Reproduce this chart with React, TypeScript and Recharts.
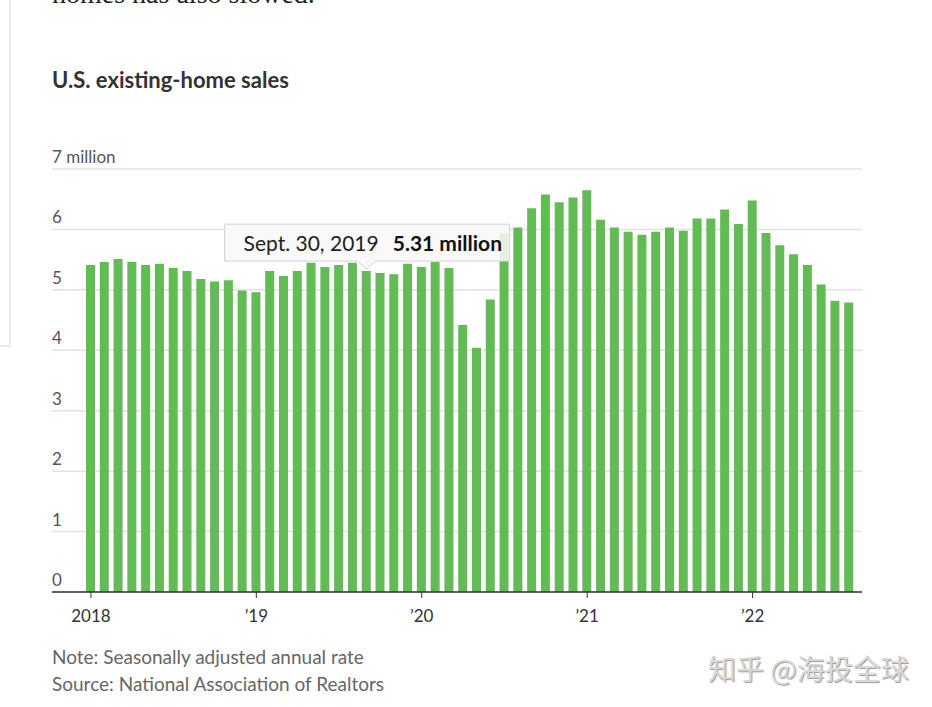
import React from "react";
import { BarChart, Bar, XAxis, YAxis, CartesianGrid, ReferenceDot } from "recharts";

const FONT = "Lato, 'Noto Sans', sans-serif";

const months = [
  "2018-01", "2018-02", "2018-03", "2018-04", "2018-05", "2018-06",
  "2018-07", "2018-08", "2018-09", "2018-10", "2018-11", "2018-12",
  "2019-01", "2019-02", "2019-03", "2019-04", "2019-05", "2019-06",
  "2019-07", "2019-08", "2019-09", "2019-10", "2019-11", "2019-12",
  "2020-01", "2020-02", "2020-03", "2020-04", "2020-05", "2020-06",
  "2020-07", "2020-08", "2020-09", "2020-10", "2020-11", "2020-12",
  "2021-01", "2021-02", "2021-03", "2021-04", "2021-05", "2021-06",
  "2021-07", "2021-08", "2021-09", "2021-10", "2021-11", "2021-12",
  "2022-01", "2022-02", "2022-03", "2022-04", "2022-05", "2022-06",
  "2022-07", "2022-08",
];

// million units, seasonally adjusted annual rate
const sales2018 = [5.41, 5.46, 5.51, 5.46, 5.41, 5.43, 5.36, 5.31, 5.18, 5.14, 5.16, 4.99];
const sales2019 = [4.96, 5.31, 5.23, 5.31, 5.45, 5.38, 5.41, 5.45, 5.31, 5.28, 5.26, 5.43];
const sales2020 = [5.38, 5.46, 5.36, 4.42, 4.04, 4.84, 5.94, 6.03, 6.35, 6.58, 6.45, 6.53];
const sales2021 = [6.65, 6.16, 6.03, 5.96, 5.91, 5.96, 6.03, 5.98, 6.18, 6.18, 6.33, 6.09];
const sales2022 = [6.48, 5.94, 5.74, 5.59, 5.41, 5.09, 4.82, 4.79];

const yearTicks: Record<string, string> = {
  "2018-01": "2018",
  "2019-01": "\u201919",
  "2020-01": "\u201920",
  "2021-01": "\u201921",
  "2022-01": "\u201922",
};

const yTicks = [0, 1, 2, 3, 4, 5, 6, 7];

const highlightMonth = "2019-09";
const highlightDate = "Sept. 30, 2019";

const values = [...sales2018, ...sales2019, ...sales2020, ...sales2021, ...sales2022];
const data = months.map((month, i) => ({ month, sales: values[i] }));
const highlightValue = values[months.indexOf(highlightMonth)];

const PLOT_LEFT = 52;

const YTick = (props: any) => {
  const { y, payload } = props;
  return (
    <text x={PLOT_LEFT} y={y - 6} fill="#555" fontSize={17} fontFamily={FONT}>
      {payload.value === 7 ? "7 million" : payload.value}
    </text>
  );
};

const TooltipBox = (props: any) => {
  const { cx, cy } = props;
  if (cx == null || cy == null) return null;
  const left = cx - 142;
  const top = cy - 47;
  return (
    <g>
      <path
        d={`M${left},${top} H${left + 285} V${cy - 10} H${cx + 9} L${cx},${cy - 2} L${cx - 9},${cy - 10} H${left} Z`}
        fill="rgba(248,248,248,0.88)"
        stroke="#d2d2d2"
        strokeWidth={1}
      />
      <text x={left + 19} y={cy - 20} fontSize={21} fontFamily={FONT} fill="#222">
        <tspan>{highlightDate}</tspan>
        <tspan dx={14} fontWeight={700} fill="#111">
          {highlightValue.toFixed(2)} million
        </tspan>
      </text>
    </g>
  );
};

export default function App() {
  return (
    <div style={{ position: "absolute", left: 0, top: 0, width: 932, height: 707, background: "#fff", overflow: "hidden" }}>
      {/* sidebar box edge */}
      <div style={{ position: "absolute", left: 0, top: 0, width: 9, height: 345, borderRight: "2px solid #e8e8e8", borderBottom: "2px solid #e8e8e8" }} />
      <div
        style={{
          position: "absolute", left: 52, top: -22, fontFamily: "'Liberation Serif', serif",
          fontSize: 28, color: "#222", whiteSpace: "nowrap", lineHeight: "normal",
        }}
      >
        homes has also slowed.
      </div>
      <div
        style={{
          position: "absolute", left: 52, top: 68, fontFamily: FONT, fontWeight: 700,
          fontSize: 22, color: "#333", whiteSpace: "nowrap", lineHeight: "24px",
        }}
      >
        U.S. existing-home sales
      </div>
      <div style={{ position: "absolute", left: 0, top: 0 }}>
        <BarChart
          width={932}
          height={640}
          data={data}
          margin={{ top: 169, right: 70, bottom: 18, left: PLOT_LEFT - 1 }}
        >
          <CartesianGrid vertical={false} stroke="#e2e2e2" strokeWidth={1.5} />
          <XAxis
            dataKey="month"
            interval={11}
            height={30}
            padding={{ left: 32, right: 6 }}
            tickSize={6}
            tickMargin={12}
            tickLine={{ stroke: "#333" }}
            axisLine={{ stroke: "#333", strokeWidth: 1.5 }}
            tick={{ fill: "#333", fontSize: 17, fontFamily: FONT }}
            tickFormatter={(v: any) => yearTicks[v] ?? ""}
          />
          <YAxis
            width={1}
            domain={[0, 7]}
            ticks={yTicks}
            axisLine={false}
            tickLine={false}
            tick={<YTick />}
          />
          <Bar dataKey="sales" fill="#62bb55" barSize={9} isAnimationActive={false} />
          <ReferenceDot x={highlightMonth} y={highlightValue} r={0} shape={<TooltipBox />} />
        </BarChart>
      </div>
      <div
        style={{
          position: "absolute", left: 52, top: 643, fontFamily: FONT, fontSize: 19,
          color: "#666", lineHeight: "27px", whiteSpace: "nowrap",
        }}
      >
        <div>Note: Seasonally adjusted annual rate</div>
        <div>Source: National Association of Realtors</div>
      </div>
      <div
        style={{
          position: "absolute", left: 708, top: 648, fontFamily: "'Noto Sans CJK SC', sans-serif",
          fontSize: 28, color: "#d8d8d8", textShadow: "1px 1px 1px #999", whiteSpace: "nowrap",
        }}
      >
        知乎 @海投全球
      </div>
    </div>
  );
}
